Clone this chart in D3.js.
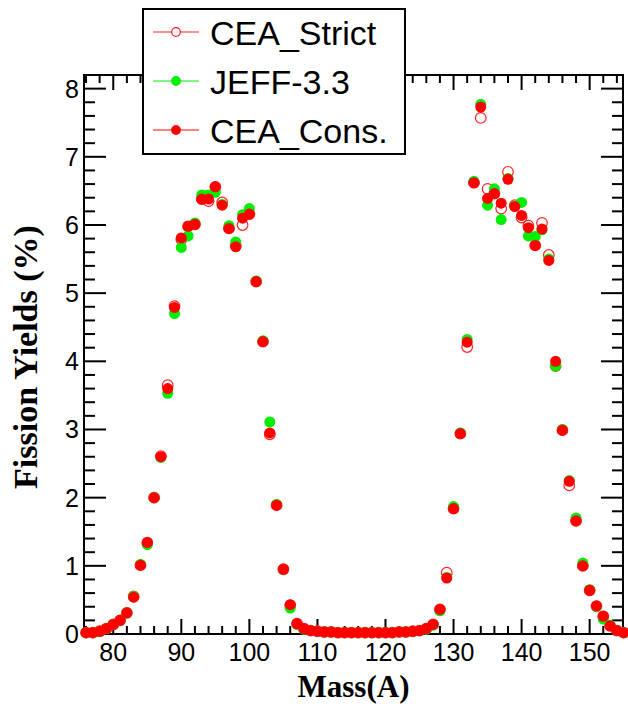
<!DOCTYPE html>
<html>
<head>
<meta charset="utf-8">
<script src="https://cdn.jsdelivr.net/npm/d3@7"></script>
<style>
  body { margin: 0; background: #fff; }
  svg { display: block; }
</style>
</head>
<body>
<div id="chart-area"></div>
<script>
// mass numbers A = 76 .. 155
const masses = d3.range(76, 156);

const cons = [
  0.02, 0.02, 0.04, 0.08, 0.14, 0.20, 0.31, 0.54, 1.01, 1.34,   // 76-85
  2.00, 2.60, 3.60, 4.79, 5.81, 5.98, 6.01, 6.38, 6.38, 6.56,   // 86-95
  6.29, 5.95, 5.68, 6.10, 6.16, 5.17, 4.29, 2.95, 1.89, 0.95,   // 96-105
  0.43, 0.15, 0.08, 0.05, 0.04, 0.03, 0.03, 0.02, 0.02, 0.02,   // 106-115
  0.02, 0.02, 0.02, 0.02, 0.02, 0.02, 0.03, 0.03, 0.04, 0.05,   // 116-125
  0.08, 0.14, 0.36, 0.82, 1.84, 2.94, 4.28, 6.62, 7.73, 6.39,   // 126-135
  6.46, 6.32, 6.67, 6.27, 6.14, 5.96, 5.70, 5.94, 5.48, 4.00,   // 136-145
  2.99, 2.24, 1.66, 1.00, 0.64, 0.41, 0.26, 0.12, 0.05, 0.02    // 146-155
];

const jeff = [
  0.02, 0.02, 0.04, 0.08, 0.14, 0.20, 0.31, 0.55, 1.02, 1.31,
  2.00, 2.59, 3.53, 4.70, 5.67, 5.84, 6.03, 6.44, 6.44, 6.48,
  6.30, 5.99, 5.75, 6.15, 6.24, 5.18, 4.30, 3.11, 1.90, 0.95,
  0.38, 0.14, 0.07, 0.05, 0.04, 0.03, 0.03, 0.02, 0.02, 0.02,
  0.02, 0.02, 0.02, 0.02, 0.02, 0.02, 0.03, 0.03, 0.04, 0.05,
  0.07, 0.13, 0.34, 0.83, 1.87, 2.95, 4.32, 6.64, 7.77, 6.29,
  6.53, 6.08, 6.68, 6.28, 6.33, 5.84, 5.83, 5.93, 5.50, 3.93,
  3.00, 2.25, 1.70, 1.04, 0.65, 0.40, 0.22, 0.13, 0.05, 0.02
];

const strict = [
  0.02, 0.02, 0.04, 0.08, 0.14, 0.20, 0.31, 0.55, 1.01, 1.34,
  2.00, 2.61, 3.65, 4.81, 5.79, 5.98, 6.01, 6.38, 6.35, 6.56,
  6.33, 5.95, 5.70, 6.00, 6.16, 5.17, 4.29, 2.93, 1.89, 0.95,
  0.42, 0.15, 0.08, 0.05, 0.04, 0.03, 0.03, 0.02, 0.02, 0.02,
  0.02, 0.02, 0.02, 0.02, 0.02, 0.02, 0.03, 0.03, 0.04, 0.05,
  0.08, 0.14, 0.36, 0.90, 1.84, 2.94, 4.21, 6.62, 7.57, 6.53,
  6.46, 6.24, 6.78, 6.29, 6.11, 5.99, 5.70, 6.03, 5.56, 3.93,
  2.99, 2.18, 1.66, 1.00, 0.64, 0.41, 0.26, 0.12, 0.05, 0.02
];

const seriesNames = ['CEA_Strict', 'JEFF-3.3', 'CEA_Cons.'];
const xMajor = [80, 90, 100, 110, 120, 130, 140, 150];
const yMajor = [0, 1, 2, 3, 4, 5, 6, 7, 8];

const W = 628, H = 704;
const pLeft = 84, pRight = 623, pTop = 75, pBottom = 634;

let svg = d3.select('#chart-area').append('svg').attr('width', W).attr('height', H);

let x = d3.scaleLinear().domain([75.7, 154.9]).range([pLeft, pRight]);
let y = d3.scaleLinear().domain([0, 8.2]).range([pBottom, pTop]);

const xMinor = d3.range(76, 155, 2).filter((v) => v % 10 !== 0);
const yMinor = d3.range(0, 41).map((i) => i / 5).filter((v, i) => i % 5 !== 0);

// frame
svg.append('rect')
  .attr('x', pLeft).attr('y', pTop)
  .attr('width', pRight - pLeft).attr('height', pBottom - pTop)
  .attr('fill', 'none').attr('stroke', '#000').attr('stroke-width', 2);

let ticks = svg.append('g').attr('stroke', '#000').attr('stroke-width', 2);

function xTicks(vals, len) {
  vals.forEach((v) => {
    ticks.append('line').attr('x1', x(v)).attr('x2', x(v)).attr('y1', pBottom).attr('y2', pBottom - len);
    ticks.append('line').attr('x1', x(v)).attr('x2', x(v)).attr('y1', pTop).attr('y2', pTop + len);
  });
}
function yTicks(vals, len) {
  vals.forEach((v) => {
    ticks.append('line').attr('x1', pLeft).attr('x2', pLeft + len).attr('y1', y(v)).attr('y2', y(v));
    ticks.append('line').attr('x1', pRight).attr('x2', pRight - len).attr('y1', y(v)).attr('y2', y(v));
  });
}
xTicks(xMajor, 15);
xTicks(xMinor, 8);
yTicks(yMajor, 22);
yTicks(yMinor, 11);

// tick labels
svg.append('g').selectAll('text').data(xMajor).enter().append('text')
  .attr('x', (d) => x(d)).attr('y', 661)
  .attr('text-anchor', 'middle')
  .attr('font-family', 'Liberation Sans, Arial, sans-serif')
  .attr('font-size', 25)
  .text((d) => d);

svg.append('g').selectAll('text').data(yMajor).enter().append('text')
  .attr('x', 79).attr('y', (d) => y(d) + 9)
  .attr('text-anchor', 'end')
  .attr('font-family', 'Liberation Sans, Arial, sans-serif')
  .attr('font-size', 25)
  .text((d) => d);

// axis titles
svg.append('text')
  .attr('x', (pLeft + pRight) / 2).attr('y', 697)
  .attr('text-anchor', 'middle')
  .attr('font-family', 'Liberation Serif, Times New Roman, serif')
  .attr('font-weight', 'bold').attr('font-size', 31)
  .text('Mass(A)');

svg.append('text')
  .attr('transform', 'translate(37,357) rotate(-90)')
  .attr('text-anchor', 'middle')
  .attr('font-family', 'Liberation Serif, Times New Roman, serif')
  .attr('font-weight', 'bold').attr('font-size', 34)
  .text('Fission Yields (%)');

// points
let plot = svg.append('g');

plot.selectAll('circle.strict').data(masses).enter().append('circle')
  .attr('class', 'strict')
  .attr('cx', (d) => x(d)).attr('cy', (d, i) => y(strict[i]))
  .attr('r', 5.3)
  .attr('fill', 'none').attr('stroke', '#ff2020').attr('stroke-width', 1.2);

plot.selectAll('circle.jeff').data(masses).enter().append('circle')
  .attr('class', 'jeff')
  .attr('cx', (d) => x(d)).attr('cy', (d, i) => y(jeff[i]))
  .attr('r', 5.5)
  .attr('fill', '#00ee00');

plot.selectAll('circle.cons').data(masses).enter().append('circle')
  .attr('class', 'cons')
  .attr('cx', (d) => x(d)).attr('cy', (d, i) => y(cons[i]))
  .attr('r', 5.5)
  .attr('fill', '#ff0000');

// legend
let legend = svg.append('g');
legend.append('rect')
  .attr('x', 143).attr('y', 9)
  .attr('width', 262).attr('height', 145)
  .attr('fill', '#fff').attr('stroke', '#000').attr('stroke-width', 2);

const legendColors = ['#ff2020', '#00ee00', '#ff0000'];
seriesNames.forEach((name, i) => {
  let cy = 32 + i * 49;
  legend.append('line')
    .attr('x1', 153).attr('x2', 199).attr('y1', cy).attr('y2', cy)
    .attr('stroke', legendColors[i]).attr('stroke-width', 1.2);
  legend.append('circle')
    .attr('cx', 176).attr('cy', cy).attr('r', 4.3)
    .attr('fill', i === 0 ? '#fff' : legendColors[i])
    .attr('stroke', legendColors[i]).attr('stroke-width', 1.2);
  legend.append('text')
    .attr('x', 210).attr('y', cy + 12.5)
    .attr('font-family', 'Liberation Sans, Arial, sans-serif')
    .attr('font-size', 34)
    .text(name);
});
</script>
</body>
</html>
